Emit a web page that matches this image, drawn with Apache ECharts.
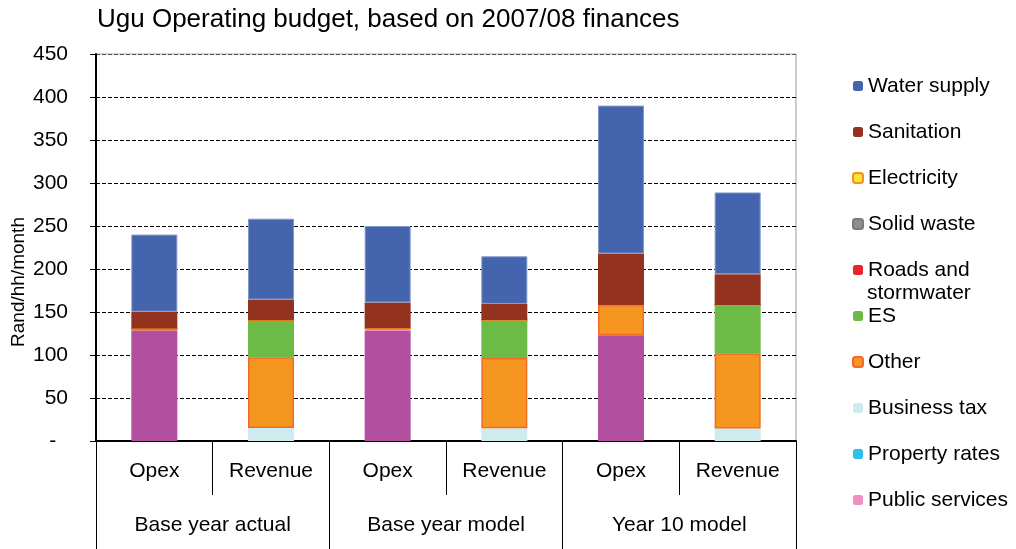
<!DOCTYPE html>
<html>
<head>
<meta charset="utf-8">
<script src="https://cdn.jsdelivr.net/npm/echarts@6/dist/echarts.min.js"></script>
<style>
html,body{margin:0;padding:0;background:#fff;}
#chart{width:1016px;height:549px;}
</style>
</head>
<body>
<div id="chart"></div>
<script>
// ---- data ----
var barCategories = ['Opex', 'Revenue', 'Opex', 'Revenue', 'Opex', 'Revenue'];
var groupCategories = ['Base year actual', 'Base year model', 'Year 10 model'];
var yTickLabels = ['-  ', '50', '100', '150', '200', '250', '300', '350', '400', '450'];

var unlabelledOpex   = [128.5, 0, 128, 0, 123, 0];
var publicServices   = [0, 0, 1.5, 0, 0, 0];
var propertyRates    = [0, 0, 0, 0, 0, 0];
var businessTax      = [0, 15, 0, 14.7, 0, 14.5];
var other            = [2.3, 82.5, 1.5, 81.7, 35, 87.5];
var es               = [0, 43, 0, 44.2, 0, 56];
var roadsStormwater  = [0, 0, 0, 0, 0, 0];
var solidWaste       = [0, 0, 0, 0, 0, 0];
var electricity      = [0, 0, 0, 0, 0, 0];
var sanitation       = [19.5, 24, 30, 18.8, 60, 36];
var waterSupply      = [89.7, 94, 89, 55.3, 172, 95];

var legendNames = ['Water supply', 'Sanitation', 'Electricity', 'Solid waste', 'Roads and stormwater',
                   'ES', 'Other', 'Business tax', 'Property rates', 'Public services'];

// ---- chart ----
var chart = echarts.init(document.getElementById('chart'), null, {renderer: 'canvas'});
var FONT = 'Liberation Sans, Arial, sans-serif';
var FS = 21;

function bar(name, data, color, border, bw) {
  return {
    name: name, type: 'bar', stack: 'total', data: data, barWidth: 46,
    itemStyle: {color: color, borderColor: border || color, borderWidth: bw || 0},
    emphasis: {disabled: true}
  };
}

var option = {
  animation: false,
  backgroundColor: '#fff',
  textStyle: {fontFamily: FONT, color: '#000'},
  title: {
    text: 'Ugu Operating budget, based on 2007/08 finances',
    left: 92, top: 2,
    textStyle: {fontFamily: FONT, fontSize: 26, fontWeight: 'normal', color: '#000'}
  },
  legend: {
    data: legendNames.map(function (n) {
      return n === 'Water supply' ? {name: n, itemStyle: {borderWidth: 0}} : n;
    }),
    orient: 'vertical',
    left: 847, top: 69,
    itemWidth: 10, itemHeight: 10, itemGap: 22,
    selectedMode: false,
    formatter: function (n) { return n === 'Roads and stormwater' ? 'Roads and' : n; },
    textStyle: {fontFamily: FONT, fontSize: FS, color: '#000', lineHeight: 24}
  },
  grid: {left: 96, right: 220, top: 54, bottom: 108, containLabel: false},
  xAxis: [
    {
      type: 'category', data: barCategories, position: 'bottom',
      axisLine: {lineStyle: {color: '#000', width: 2}},
      axisTick: {show: true, length: 54, interval: 0, lineStyle: {color: '#000', width: 1}},
      axisLabel: {fontFamily: FONT, fontSize: FS, color: '#000', margin: 20, interval: 0}
    },
    {
      type: 'category', data: groupCategories, position: 'bottom',
      axisLine: {show: false},
      axisTick: {show: true, length: 108, interval: 0, lineStyle: {color: '#000', width: 1}},
      axisLabel: {fontFamily: FONT, fontSize: FS, color: '#000', margin: 74, interval: 0}
    }
  ],
  yAxis: {
    type: 'value', min: 0, max: 450, interval: 50,
    axisLine: {show: true, lineStyle: {color: '#000', width: 2}},
    axisTick: {show: true, length: 6, lineStyle: {color: '#000'}},
    axisLabel: {fontFamily: FONT, fontSize: FS, color: '#000', margin: 28,
      formatter: function (v) { return yTickLabels[Math.round(v / 50)]; }},
    splitLine: {show: true, lineStyle: {color: '#000', type: [4, 2], width: 1}}
  },
  graphic: [
    {type: 'text', x: 867, y: 293,
     style: {text: 'stormwater', font: FS + 'px ' + FONT, fill: '#000', verticalAlign: 'middle'}},
    {type: 'text', rotation: Math.PI / 2, x: 19, y: 282,
     style: {text: 'Rand/hh/month', font: '19px ' + FONT, fill: '#000',
             align: 'center', verticalAlign: 'middle'}},
    {type: 'line', shape: {x1: 97, y1: 54, x2: 796, y2: 54},
     style: {stroke: '#aaa', lineWidth: 1}, z: 5},
    {type: 'line', shape: {x1: 796, y1: 54, x2: 796, y2: 441},
     style: {stroke: '#999', lineWidth: 1}}
  ],
  series: [
    bar('Unlabelled', unlabelledOpex, '#B24F9E'),
    bar('Public services', publicServices, '#EE91C0'),
    bar('Property rates', propertyRates, '#2DC0EB'),
    bar('Business tax', businessTax, '#D0EBEF'),
    bar('Other', other, '#F4961F', '#F26A24', 1.5),
    bar('ES', es, '#6CBB46'),
    bar('Roads and stormwater', roadsStormwater, '#E9232B'),
    bar('Solid waste', solidWaste, '#8E8E8E', '#7a7a7a', 1),
    bar('Electricity', electricity, '#F2E63B', '#F5921E', 1.5),
    bar('Sanitation', sanitation, '#93331F'),
    bar('Water supply', waterSupply, '#4464AE', '#8298CC', 1)
  ]
};
chart.setOption(option);
</script>
</body>
</html>
